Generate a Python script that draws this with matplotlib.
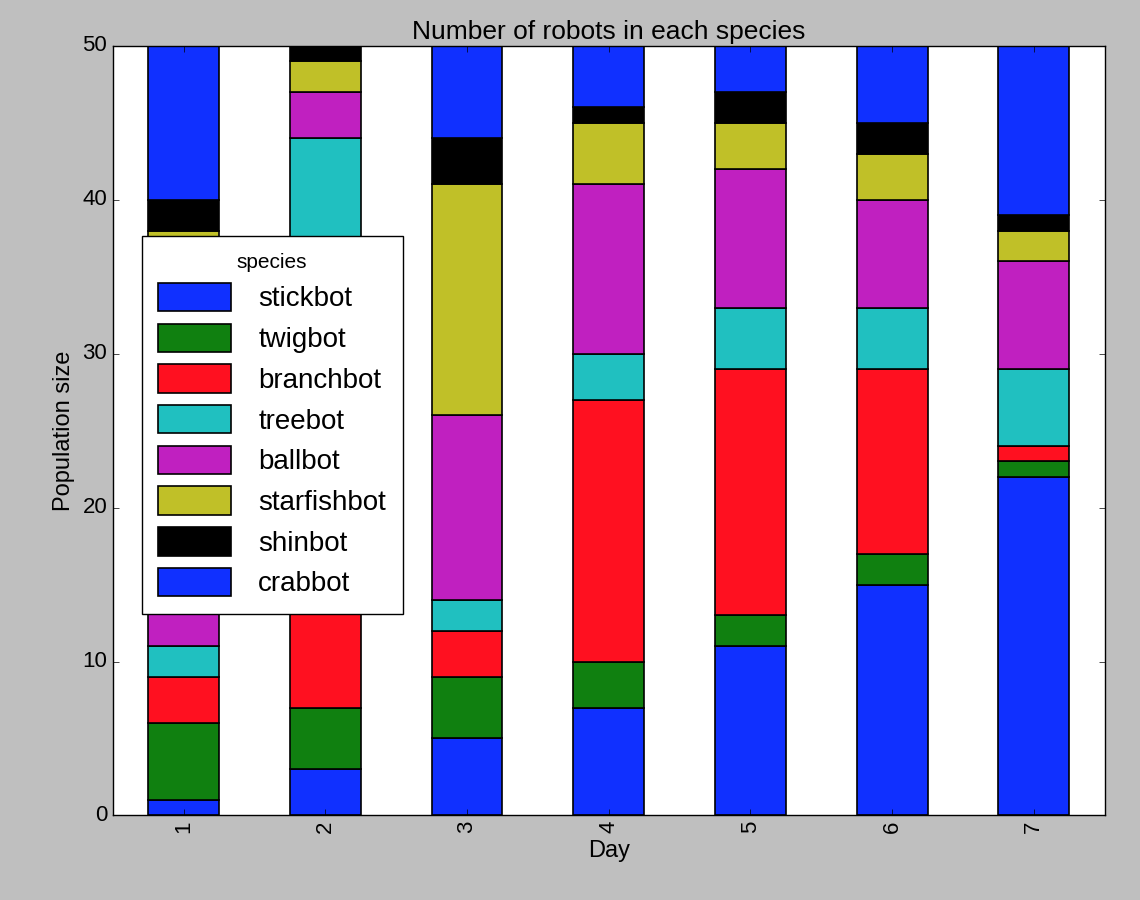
import matplotlib
matplotlib.use("Agg")
import matplotlib.pyplot as plt
import numpy as np

plt.style.use("classic")
plt.rcParams['font.family'] = ['Liberation Sans', 'DejaVu Sans']

days = [1, 2, 3, 4, 5, 6, 7]
# stacking order bottom->top
crabbot = [1, 3, 5, 7, 11, 15, 22]
twigbot = [5, 4, 4, 3, 2, 2, 1]
branchbot = [3, 15, 3, 17, 16, 12, 1]
treebot = [2, 22, 2, 3, 4, 4, 5]
ballbot = [12, 3, 12, 11, 9, 7, 7]
starfishbot = [15, 2, 15, 4, 3, 3, 2]
shinbot = [2, 1, 3, 1, 2, 2, 1]
stickbot = [10, 0, 6, 4, 3, 5, 11]

stack = [("crabbot", crabbot, "#1030ff"), ("twigbot", twigbot, "#108010"), ("branchbot", branchbot, "#ff1020"),
         ("treebot", treebot, "#20c0c0"), ("ballbot", ballbot, "#c020c0"), ("starfishbot", starfishbot, "#c0c028"),
         ("shinbot", shinbot, "black"), ("stickbot", stickbot, "#1030ff")]

fig = plt.figure(figsize=(11.4, 9), dpi=100, facecolor="#bfbfbf")
ax = fig.add_axes([0.099, 0.094, 0.87, 0.855])
x = np.arange(len(days))
bottom = np.zeros(len(days))
handles = []
for name, vals, col in stack:
    h = ax.bar(x, vals, 0.5, bottom=bottom, color=col, edgecolor="black", linewidth=1.2, label=name, align="center")
    handles.append(h)
    bottom += np.array(vals)

ax.set_xlim(-0.5, len(days) - 0.5)
ax.set_ylim(0, 50)
ax.set_xticks(x)
ax.set_xticklabels([str(d) for d in days], rotation=90, fontsize=16)
ax.set_yticks([0, 10, 20, 30, 40, 50])
ax.tick_params(axis="y", labelsize=16)
ax.set_xlabel("Day", fontsize=17)
ax.set_ylabel("Population size", fontsize=17)
ax.set_title("Number of robots in each species", fontsize=19)

order = [7, 1, 2, 3, 4, 5, 6, 0]
leg = ax.legend([handles[i] for i in order], [stack[i][0] for i in order], title="species",
                loc="upper left", bbox_to_anchor=(0.015, 0.771), fontsize=20, title_fontsize=15,
                handlelength=2.6, handleheight=1.2, handletextpad=1.0, borderpad=0.6,
                labelspacing=0.4, fancybox=False)
fig.savefig("out.png", dpi=100, facecolor=fig.get_facecolor())
